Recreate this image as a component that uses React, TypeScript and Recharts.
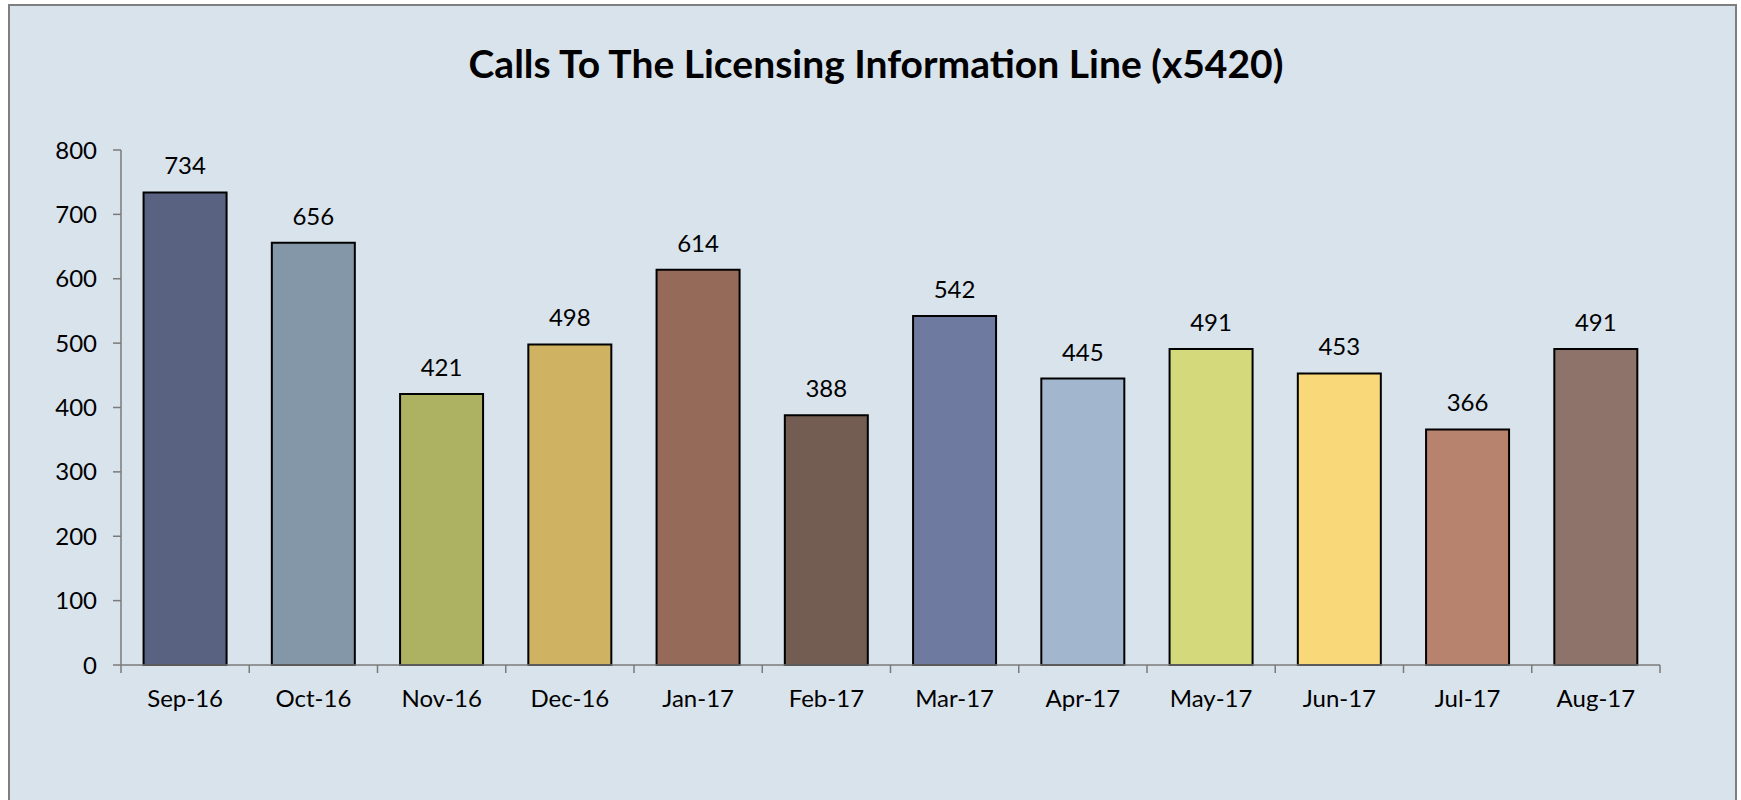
import React from 'react';
import { BarChart, Bar, XAxis, YAxis, Cell, LabelList } from 'recharts';

const months = ['Sep-16', 'Oct-16', 'Nov-16', 'Dec-16', 'Jan-17', 'Feb-17', 'Mar-17', 'Apr-17', 'May-17', 'Jun-17', 'Jul-17', 'Aug-17'];
const calls = [734, 656, 421, 498, 614, 388, 542, 445, 491, 453, 366, 491];
const barColors = ['#5a6282', '#8497a9', '#adb262', '#cfb362', '#966a59', '#735c52', '#6f7aa0', '#a2b7cd', '#d4da7c', '#f9d87a', '#b7836f', '#8d7369'];
const yTicks = [0, 100, 200, 300, 400, 500, 600, 700, 800];
const title = 'Calls To The Licensing Information Line (x5420)';

const data = months.map((m, i) => ({ month: m, calls: calls[i] }));

const FONT = "'Gill Sans MT', 'Gill Sans', Lato, sans-serif";
const AXIS = '#7a7a7a';

const XTick = (props: any) => {
  const { x, y, payload, index, visibleTicksCount } = props;
  const half = payload && payload.offset != null ? payload.offset : 64;
  const axisY = y - 25;
  return (
    <g>
      <line x1={x - half} x2={x - half} y1={axisY} y2={axisY + 8} stroke={AXIS} strokeWidth={1.5} />
      {index === visibleTicksCount - 1 && (
        <line x1={x + half} x2={x + half} y1={axisY} y2={axisY + 8} stroke={AXIS} strokeWidth={1.5} />
      )}
      <text x={x} y={y} dy="0.71em" textAnchor="middle" fill="#000" fontSize={24} fontFamily={FONT}>
        {payload.value}
      </text>
    </g>
  );
};

export default function App() {
  return (
    <div style={{ position: 'absolute', left: 0, top: 0, width: 1741, height: 800, overflow: 'hidden', background: '#fff' }}>
      <div
        style={{
          position: 'absolute',
          left: 8,
          top: 4,
          width: 1729,
          height: 900,
          border: '2px solid #7f7f7f',
          boxSizing: 'border-box',
          background: '#d9e3ec',
        }}
      />
      <div
        style={{
          position: 'absolute',
          left: 0,
          top: 39,
          width: 1752,
          textAlign: 'center',
          fontFamily: FONT,
          fontWeight: 'bold',
          fontSize: 39,
          color: '#000',
          lineHeight: '48px',
          whiteSpace: 'nowrap',
        }}
      >
        {title}
      </div>
      <div style={{ position: 'absolute', left: 0, top: 0 }}>
        <BarChart
          width={1741}
          height={800}
          data={data}
          margin={{ top: 150, right: 81, bottom: 75, left: 61 }}
          barCategoryGap="17.6%"
        >
          <XAxis
            dataKey="month"
            height={60}
            tickLine={false}
            tickSize={8}
            tickMargin={17}
            interval={0}
            axisLine={{ stroke: AXIS, strokeWidth: 1.5 }}
            tick={<XTick />}
          />
          <YAxis
            width={60}
            domain={[0, 800]}
            ticks={yTicks}
            interval={0}
            tickSize={8}
            tickMargin={16}
            tickLine={{ stroke: AXIS, strokeWidth: 1.5 }}
            axisLine={{ stroke: AXIS, strokeWidth: 1.5 }}
            tick={{ fill: '#000', fontSize: 24, fontFamily: FONT }}
          />
          <Bar dataKey="calls" stroke="#000" strokeWidth={2} isAnimationActive={false}>
            {data.map((d, i) => (
              <Cell key={d.month} fill={barColors[i]} />
            ))}
            <LabelList dataKey="calls" position="top" offset={18} fill="#000" fontSize={24} fontFamily={FONT} />
          </Bar>
        </BarChart>
      </div>
    </div>
  );
}
